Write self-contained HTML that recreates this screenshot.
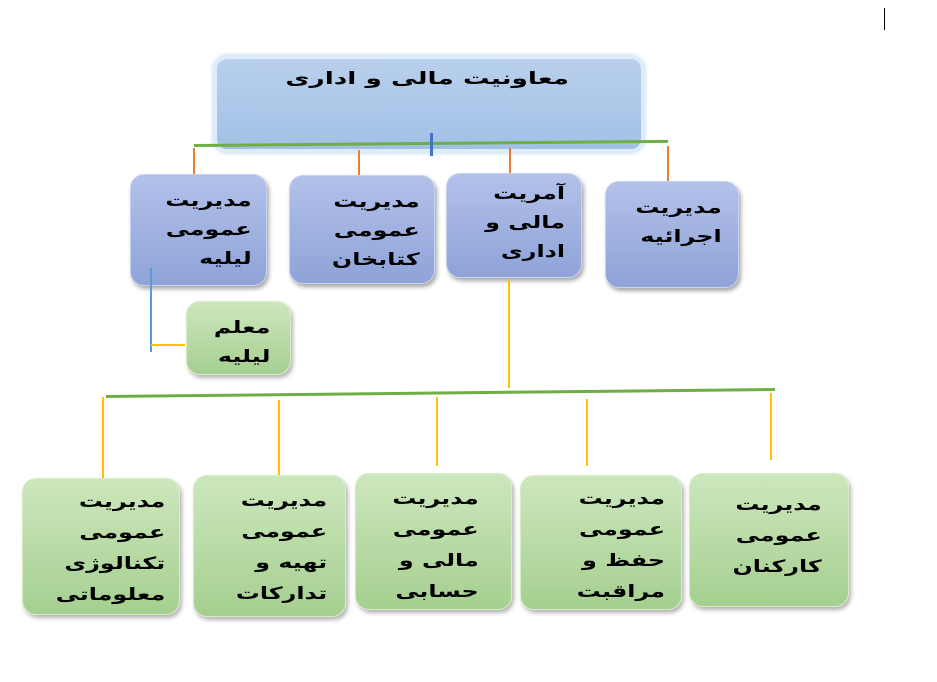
<!DOCTYPE html>
<html><head><meta charset="utf-8"><style>
body{margin:0;width:937px;height:682px;background:#fff;position:relative;overflow:hidden;font-family:"DejaVu Sans","Liberation Sans",sans-serif}
.b{position:absolute;box-sizing:border-box;border-radius:14px;direction:rtl;font-weight:bold;font-size:17px;color:#000;line-height:29px}
.b span{display:inline-block;transform:scaleX(1.4);transform-origin:right;white-space:nowrap}
.bl{background:linear-gradient(#b3c1ea,#8fa3d8);box-shadow:2px 3px 4px rgba(0,0,0,.35);border:1px solid #c7d2f0}
.gr{background:linear-gradient(#cde7bd,#a5cf90);box-shadow:2px 3px 4px rgba(0,0,0,.3);border:1px solid #d8ecca}
.l{position:absolute}
</style></head><body>
<div class="l" style="left:884px;top:8px;width:1px;height:22px;background:#000"></div>
<div class="b" style="left:213px;top:55px;width:432px;height:98px;background:linear-gradient(#b8d0ec,#a2c0e6);border:4px solid #ddecfa;box-shadow:0 0 4px #b9d6f4;padding:6px 72px 0 0"><span style="transform:scaleX(1.55)">معاونیت مالی و اداری</span></div>
<div class="l" style="left:194px;top:144px;width:474px;height:3px;background:#6fae45;transform:rotate(-0.5deg);transform-origin:left"></div>
<div class="l" style="left:430px;top:133px;width:3px;height:23px;background:#4472c4"></div>
<div class="l" style="left:193px;top:148px;width:2px;height:30px;background:#ed7d31"></div>
<div class="l" style="left:358px;top:150px;width:2px;height:30px;background:#ed7d31"></div>
<div class="l" style="left:509px;top:148px;width:2px;height:32px;background:#ed7d31"></div>
<div class="l" style="left:667px;top:146px;width:2px;height:35px;background:#ed7d31"></div>

<div class="b bl" style="left:130px;top:174px;width:137px;height:112px;padding:12px 14px 0 0"><span>مدیریت<br>عمومی<br>لیلیه</span></div>
<div class="b bl" style="left:289px;top:175px;width:146px;height:109px;padding:12px 14px 0 0"><span>مدیریت<br>عمومی<br>کتابخان</span></div>
<div class="b bl" style="left:446px;top:173px;width:136px;height:105px;padding:6px 16px 0 0"><span>آمریت<br>مالی و<br>اداری</span></div>
<div class="b bl" style="left:605px;top:181px;width:134px;height:107px;padding:12px 16px 0 0"><span>مدیریت<br>اجرائیه</span></div>

<div class="l" style="left:150px;top:268px;width:2px;height:84px;background:#5b9bd5"></div>
<div class="l" style="left:151px;top:344px;width:34px;height:2px;background:#ffc000"></div>
<div class="b gr" style="left:186px;top:301px;width:105px;height:74px;padding:12px 20px 0 0"><span>معلم<br>لیلیه</span></div>

<div class="l" style="left:508px;top:280px;width:2px;height:108px;background:#ffc000"></div>
<div class="l" style="left:106px;top:395px;width:669px;height:3px;background:#6fae45;transform:rotate(-0.6deg);transform-origin:left"></div>
<div class="l" style="left:102px;top:397px;width:2px;height:81px;background:#ffc000"></div>
<div class="l" style="left:278px;top:400px;width:2px;height:80px;background:#ffc000"></div>
<div class="l" style="left:436px;top:397px;width:2px;height:69px;background:#ffc000"></div>
<div class="l" style="left:586px;top:399px;width:2px;height:67px;background:#ffc000"></div>
<div class="l" style="left:770px;top:393px;width:2px;height:67px;background:#ffc000"></div>

<div class="b gr" style="left:22px;top:478px;width:158px;height:137px;padding:8px 14px 0 0;line-height:31px"><span>مدیریت<br>عمومی<br>تکنالوژی<br>معلوماتی</span></div>
<div class="b gr" style="left:193px;top:475px;width:153px;height:142px;padding:10px 18px 0 0;line-height:31px"><span>مدیریت<br>عمومی<br>تهیه و<br>تدارکات</span></div>
<div class="b gr" style="left:355px;top:473px;width:157px;height:137px;padding:10px 32px 0 0;line-height:31px"><span>مدیریت<br>عمومی<br>مالی و<br>حسابی</span></div>
<div class="b gr" style="left:520px;top:475px;width:162px;height:135px;padding:8px 16px 0 0;line-height:31px"><span>مدیریت<br>عمومی<br>حفظ و<br>مراقبت</span></div>
<div class="b gr" style="left:689px;top:473px;width:160px;height:134px;padding:16px 26px 0 0;line-height:31px"><span>مدیریت<br>عمومی<br>کارکنان</span></div>
</body></html>
